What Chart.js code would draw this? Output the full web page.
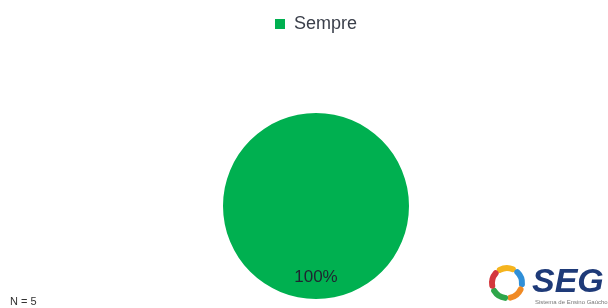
<!DOCTYPE html>
<html>
<head>
<meta charset="utf-8">
<script src="https://cdn.jsdelivr.net/npm/chart.js@4"></script>
<style>
  html, body { margin: 0; padding: 0; background: #fff; }
  #wrap { width: 608px; height: 308px; position: relative; }
</style>
</head>
<body>
<div id="wrap"><canvas id="chart" width="608" height="308"></canvas></div>
<script>
var categories = ["Sempre"];
var counts = [5];
var colors = ["#00B050"];
var sampleLabel = "N = 5";

var total = 0;
for (var i = 0; i < counts.length; i++) total += counts[i];

// legend needs extra height so the pie sits lower
var legendSpace = {
  id: "legendSpace",
  beforeInit: function(chart) {
    var fit = chart.legend.fit;
    chart.legend.fit = function() {
      fit.bind(chart.legend)();
      this.height = 107;
    };
  }
};

// percent label inside the slice
var sliceLabels = {
  id: "sliceLabels",
  afterDatasetsDraw: function(chart) {
    var ctx = chart.ctx;
    var meta = chart.getDatasetMeta(0);
    ctx.save();
    ctx.font = "17px 'Liberation Sans', Arial, sans-serif";
    ctx.fillStyle = "#1f2430";
    ctx.textAlign = "center";
    ctx.textBaseline = "middle";
    for (var i = 0; i < meta.data.length; i++) {
      var arc = meta.data[i];
      var mid = (arc.startAngle + arc.endAngle) / 2;
      var r = arc.outerRadius * 0.77;
      var pct = Math.round(counts[i] / total * 100) + "%";
      ctx.fillText(pct, arc.x + Math.cos(mid) * r, arc.y + Math.sin(mid) * r);
    }
    ctx.restore();
  }
};

// N and logo
var footer = {
  id: "footer",
  afterDraw: function(chart) {
    var ctx = chart.ctx;
    ctx.save();
    ctx.font = "11px 'Liberation Sans', Arial, sans-serif";
    ctx.fillStyle = "#333";
    ctx.textAlign = "left";
    ctx.textBaseline = "alphabetic";
    ctx.fillText(sampleLabel, 10, 305);

    // pinwheel
    var cx = 507, cy = 283;
    var blades = ["#F5B41E", "#2F8FD8", "#F08A24", "#2EA64A", "#D4373C"];
    ctx.lineCap = "round";
    for (var i = 0; i < blades.length; i++) {
      var a = -Math.PI / 2 - 0.5 + i * 2 * Math.PI / 5;
      ctx.strokeStyle = blades[i];
      ctx.lineWidth = 6;
      ctx.beginPath();
      ctx.arc(cx, cy, 15, a, a + 0.9);
      ctx.stroke();
    }

    ctx.fillStyle = "#1e3a78";
    ctx.font = "italic bold 34px 'Liberation Sans', Arial, sans-serif";
    ctx.fillText("SEG", 532, 292);
    ctx.fillStyle = "#777";
    ctx.font = "6px 'Liberation Sans', Arial, sans-serif";
    ctx.fillText("Sistema de Ensino Gaúcho", 535, 304);
    ctx.restore();
  }
};

new Chart(document.getElementById("chart"), {
  type: "pie",
  data: {
    labels: categories,
    datasets: [{
      data: counts,
      backgroundColor: colors,
      borderWidth: 0
    }]
  },
  options: {
    responsive: false,
    animation: false,
    layout: { padding: { top: 6, bottom: 9, left: 24, right: 0 } },
    plugins: {
      legend: {
        position: "top",
        labels: {
          boxWidth: 10,
          boxHeight: 10,
          padding: 9,
          color: "#3a3f4a",
          font: { family: "'Liberation Sans', Arial, sans-serif", size: 18 }
        }
      },
      tooltip: { enabled: false }
    }
  },
  plugins: [legendSpace, sliceLabels, footer]
});
</script>
</body>
</html>
